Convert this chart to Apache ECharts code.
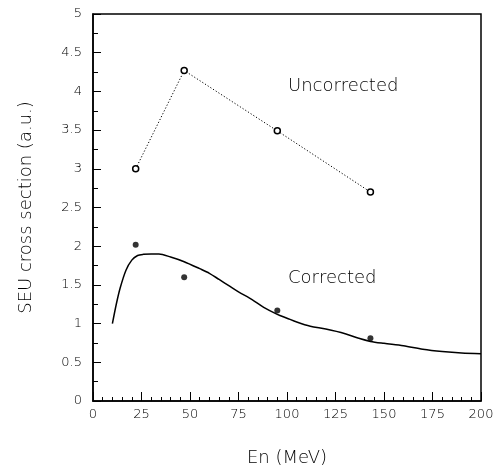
<!DOCTYPE html>
<html>
<head>
<meta charset="utf-8">
<script src="https://cdn.jsdelivr.net/npm/echarts@6/dist/echarts.min.js"></script>
<style>
  html, body { margin: 0; padding: 0; background: #fff; }
  #chart { width: 499px; height: 472px; }
</style>
</head>
<body>
<div id="chart"></div>
<script>
// measured energies (MeV) and cross sections (a.u.)
const energies = [22, 47, 95, 143]
const uncorrected = [3.0, 4.27, 3.49, 2.7]
const corrected = [2.02, 1.6, 1.17, 0.81]

// model curve
const curveX = [10, 12, 14, 17, 20, 23, 26, 30, 34, 40, 47, 55, 60, 65, 70, 75, 82, 88, 95, 100, 105, 112, 120, 130, 137, 143, 150, 160, 170, 180, 190, 200]
const curveY = [1.0, 1.25, 1.46, 1.69, 1.82, 1.88, 1.895, 1.9, 1.9, 1.86, 1.8, 1.71, 1.65, 1.57, 1.49, 1.41, 1.31, 1.21, 1.12, 1.07, 1.02, 0.965, 0.93, 0.87, 0.81, 0.77, 0.745, 0.715, 0.67, 0.64, 0.62, 0.61]

const xTicks = [0, 25, 50, 75, 100, 125, 150, 175, 200]
const yTicks = [0, 0.5, 1, 1.5, 2, 2.5, 3, 3.5, 4, 4.5, 5]

const FONT = 'DejaVu Sans'
const WEIGHT = 200
const INK = '#000'

let chart = echarts.init(document.getElementById('chart'))

function pairs(xs, ys) {
  return xs.map((x, i) => [x, ys[i]])
}

let option = {
  animation: false,
  backgroundColor: '#fff',
  grid: {
    left: 93, top: 14, right: 18, bottom: 69,
    show: true, borderColor: INK, borderWidth: 1.5
  },
  xAxis: {
    type: 'value',
    min: xTicks[0], max: xTicks[xTicks.length - 1], interval: 25,
    name: 'En (MeV)', nameLocation: 'middle', nameGap: 48,
    nameTextStyle: { fontFamily: FONT, fontWeight: WEIGHT, fontSize: 18, color: INK },
    axisLine: { show: true, lineStyle: { color: INK, width: 1.5 } },
    axisTick: { show: true, inside: true, length: 9, lineStyle: { color: INK, width: 1 } },
    minorTick: { show: true, splitNumber: 5, length: 4, lineStyle: { color: INK, width: 1 } },
    splitLine: { show: false },
    axisLabel: { margin: 7, fontFamily: FONT, fontWeight: WEIGHT, fontSize: 13, color: INK }
  },
  yAxis: {
    type: 'value',
    min: yTicks[0], max: yTicks[yTicks.length - 1], interval: 0.5,
    name: 'SEU cross section (a.u.)', nameLocation: 'middle', nameGap: 58,
    nameTextStyle: { fontFamily: FONT, fontWeight: WEIGHT, fontSize: 18, color: INK },
    axisLine: { show: true, lineStyle: { color: INK, width: 1.5 } },
    axisTick: { show: true, inside: true, length: 8, lineStyle: { color: INK, width: 1 } },
    minorTick: { show: true, splitNumber: 2, length: 5, lineStyle: { color: INK, width: 1 } },
    splitLine: { show: false },
    axisLabel: { margin: 11, fontFamily: FONT, fontWeight: WEIGHT, fontSize: 13, color: INK }
  },
  series: [
    {
      name: 'Uncorrected',
      type: 'line',
      data: pairs(energies, uncorrected),
      symbol: 'circle', symbolSize: 6,
      itemStyle: { color: '#fff', borderColor: INK, borderWidth: 1.5 },
      lineStyle: { color: INK, width: 1, type: [1.2, 2] }
    },
    {
      name: 'Model',
      type: 'line',
      data: pairs(curveX, curveY),
      showSymbol: false, smooth: 0.3,
      lineStyle: { color: INK, width: 1.5 }
    },
    {
      name: 'Corrected',
      type: 'scatter',
      data: pairs(energies, corrected),
      symbol: 'circle', symbolSize: 6,
      itemStyle: { color: INK }
    }
  ]
}

chart.setOption(option)

// text annotations anchored in data space
const notes = [
  { text: 'Uncorrected', at: [100.5, 4.06] },
  { text: 'Corrected', at: [100.5, 1.58] }
]
chart.setOption({
  graphic: notes.map(n => {
    let p = chart.convertToPixel({ gridIndex: 0 }, n.at)
    return {
      type: 'text', x: p[0], y: p[1],
      style: {
        text: n.text, fill: INK, fontFamily: FONT, fontWeight: WEIGHT, fontSize: 18,
        align: 'left', verticalAlign: 'middle'
      }
    }
  })
})
</script>
</body>
</html>
